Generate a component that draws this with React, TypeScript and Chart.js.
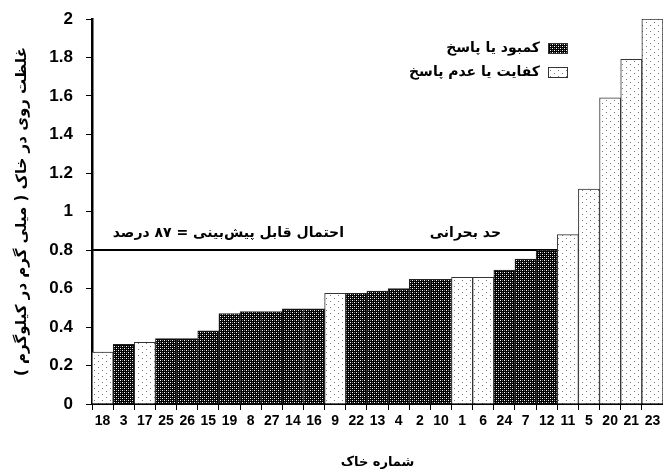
import React, { useEffect, useRef } from 'react';
import { Chart, registerables } from 'chart.js';

Chart.register(...registerables);

// ---- data ----
const soilIds = ['18', '3', '17', '25', '26', '15', '19', '8', '27', '14', '16', '9', '22', '13', '4', '2', '10', '1', '6', '24', '7', '12', '11', '5', '20', '21', '23'];
const zincValues = [0.27, 0.31, 0.32, 0.34, 0.34, 0.38, 0.47, 0.48, 0.48, 0.495, 0.495, 0.575, 0.575, 0.587, 0.6, 0.648, 0.648, 0.658, 0.658, 0.696, 0.753, 0.8, 0.88, 1.117, 1.59, 1.79, 2.0];
// 'r' = deficiency / response, 'n' = sufficiency / no response
const responseGroup = ['n', 'r', 'n', 'r', 'r', 'r', 'r', 'r', 'r', 'r', 'r', 'n', 'r', 'r', 'r', 'r', 'r', 'n', 'n', 'r', 'r', 'r', 'n', 'n', 'n', 'n', 'n'];
const criticalLevel = 0.8;

const seriesResponse = 'کمبود یا پاسخ';
const seriesNoResponse = 'کفایت یا عدم پاسخ';
const criticalLabel = 'حد بحرانی';
const probabilityLabel = 'احتمال قابل پیش‌بینی = ۸۷ درصد';
const yTitle = 'غلظت روی در خاک ( میلی گرم در کیلوگرم )';
const xTitle = 'شماره خاک';

const FA_FONT = '"DejaVu Sans", sans-serif';

function makeDarkPattern(): CanvasPattern | string {
  const c = document.createElement('canvas');
  c.width = 4; c.height = 4;
  const g = c.getContext('2d');
  if (!g) return '#333';
  g.fillStyle = '#000'; g.fillRect(0, 0, 4, 4);
  g.fillStyle = '#ffffff'; g.fillRect(0, 0, 1, 1); g.fillRect(2, 2, 1, 1);
  g.fillStyle = '#777777'; g.fillRect(2, 0, 1, 1); g.fillRect(0, 2, 1, 1);
  return g.createPattern(c, 'repeat') || '#333';
}

function makeLightPattern(): CanvasPattern | string {
  const c = document.createElement('canvas');
  c.width = 8; c.height = 6;
  const g = c.getContext('2d');
  if (!g) return '#fff';
  g.fillStyle = '#fff'; g.fillRect(0, 0, 8, 6);
  g.fillStyle = '#777'; g.fillRect(2, 1, 1, 1); g.fillRect(6, 4, 1, 1);
  return g.createPattern(c, 'repeat') || '#fff';
}

export default function App() {
  const ref = useRef<HTMLCanvasElement | null>(null);

  useEffect(() => {
    if (!ref.current) return;
    const dark = makeDarkPattern();
    const light = makeLightPattern();

    const respData = zincValues.map((v, i) => (responseGroup[i] === 'r' ? v : null));
    const noRespData = zincValues.map((v, i) => (responseGroup[i] === 'n' ? v : null));

    const overlay = {
      id: 'overlay',
      beforeDatasetsDraw(chart: any) {
        const { ctx, chartArea, scales } = chart;
        const yc = scales.y.getPixelForValue(criticalLevel);
        ctx.save();
        ctx.strokeStyle = '#000';
        ctx.lineWidth = 2;
        ctx.beginPath();
        ctx.moveTo(chartArea.left, yc);
        ctx.lineTo(chartArea.right, yc);
        ctx.stroke();
        ctx.restore();
      },
      afterDraw(chart: any) {
        const { ctx, scales } = chart;
        const yc = scales.y.getPixelForValue(criticalLevel);
        ctx.save();
        ctx.fillStyle = '#000';
        ctx.direction = 'rtl';
        ctx.textAlign = 'right';
        ctx.textBaseline = 'alphabetic';
        ctx.font = 'bold 14px ' + FA_FONT;
        ctx.fillText(criticalLabel, 501, yc - 13);
        ctx.fillText(probabilityLabel, 344, yc - 13);

        // legend
        const items = [
          { label: seriesResponse, fill: dark, y: 48 },
          { label: seriesNoResponse, fill: light, y: 72 },
        ];
        ctx.font = 'bold 14px ' + FA_FONT;
        ctx.textBaseline = 'middle';
        for (const it of items) {
          ctx.fillStyle = it.fill as any;
          ctx.fillRect(548, it.y - 5, 20, 11);
          ctx.strokeStyle = '#333';
          ctx.lineWidth = 1;
          ctx.strokeRect(548.5, it.y - 4.5, 19, 10);
          ctx.fillStyle = '#000';
          ctx.fillText(it.label, 540, it.y);
        }
        ctx.restore();
      },
    };

    const chart = new Chart(ref.current, {
      type: 'bar',
      data: {
        labels: soilIds,
        datasets: [
          {
            label: seriesResponse,
            data: respData,
            backgroundColor: dark as any,
            borderColor: '#222',
            borderWidth: 1,
            barPercentage: 1,
            categoryPercentage: 1,
          },
          {
            label: seriesNoResponse,
            data: noRespData,
            backgroundColor: light as any,
            borderColor: '#333',
            borderWidth: 1,
            barPercentage: 1,
            categoryPercentage: 1,
          },
        ],
      },
      options: {
        responsive: false,
        animation: false,
        layout: { padding: { top: 19, right: 0, left: 0, bottom: 0 } },
        plugins: {
          legend: { display: false },
          tooltip: { enabled: false },
        },
        scales: {
          x: {
            stacked: true,
            offset: true,
            grid: {
              offset: true,
              drawOnChartArea: false,
              drawTicks: true,
              tickLength: 6,
              tickColor: '#000',
              tickWidth: 1,
            },
            border: { display: true, color: '#000', width: 2 },
            ticks: {
              color: '#000',
              padding: 3,
              maxRotation: 0,
              autoSkip: false,
              font: { family: '"Liberation Sans Narrow", "Liberation Sans", Arial, sans-serif', weight: 'bold', size: 14 },
            },
            title: {
              display: true,
              text: xTitle,
              color: '#000',
              font: { family: FA_FONT, weight: 'bold', size: 13 },
              padding: { top: 0, bottom: 2 },
            },
            afterFit(scale: any) { scale.height = 68; scale.paddingLeft = 0; scale.paddingRight = 0; },
          },
          y: {
            stacked: false,
            min: 0,
            max: 2,
            ticks: {
              stepSize: 0.1,
              color: '#000',
              padding: 13,
              font: { family: '"Liberation Sans", Arial, sans-serif', weight: 'bold', size: 17 },
              callback: (v: any) => {
                const n = Math.round(Number(v) * 10);
                if (n % 2 !== 0) return '';
                return String(n / 10);
              },
            },
            grid: {
              drawOnChartArea: false,
              drawTicks: true,
              tickLength: 6,
              tickColor: '#000',
              tickWidth: 1,
            },
            border: { display: true, color: '#000', width: 2.5 },
            title: {
              display: true,
              text: yTitle,
              color: '#000',
              font: { family: FA_FONT, weight: 'bold', size: 15 },
              padding: { top: 13, bottom: 0 },
            },
            afterFit(scale: any) { scale.width = 92; scale.paddingTop = 0; scale.paddingBottom = 0; },
          },
        },
      } as any,
      plugins: [overlay],
    });

    return () => chart.destroy();
  }, []);

  return (
    <div style={{ position: 'fixed', left: 0, top: 0, width: 663, height: 472, background: '#fff' }}>
      <canvas ref={ref} width={663} height={472} dir="rtl" style={{ display: 'block', direction: 'rtl' }} />
    </div>
  );
}
